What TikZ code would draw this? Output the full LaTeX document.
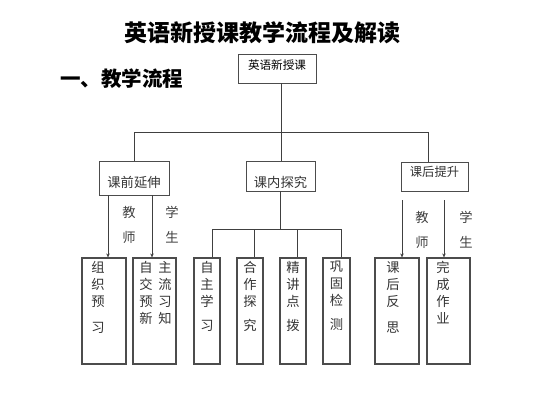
\documentclass[tikz,border=0pt]{standalone}
\usepackage{fontspec}
\newfontfamily\cjk{Noto Sans CJK SC}
\usetikzlibrary{arrows.meta}
\begin{document}
\begin{tikzpicture}[x=1pt,y=-1pt,
  box/.style={draw=black!70,line width=0.9pt,inner sep=0pt},
  tall/.style={draw=black!70,line width=1.2pt,inner sep=0pt},
  conn/.style={draw=black!75,line width=0.9pt},
  arr/.style={conn,-{Stealth[length=4pt,width=3.5pt]}},
  lbl/.style={font=\cjk\fontsize{13.3}{15}\selectfont,text=black!80,inner sep=0pt},
  col/.style={font=\cjk\fontsize{13.3}{17}\selectfont,text=black!80,inner sep=0pt,align=center,anchor=north},
  side/.style={font=\cjk\fontsize{13.3}{15}\selectfont,text=black!75,inner sep=0pt}]
\useasboundingbox (0,0) rectangle (533,400);
% titles
\node[font=\cjk\bfseries\fontsize{23}{26}\selectfont,inner sep=0pt] (title) at (262,33) {英语新授课教学流程及解读};
\node[font=\cjk\bfseries\fontsize{20.5}{23}\selectfont,inner sep=0pt,anchor=west] (sub) at (60,79) {一、教学流程};
% level 0
\node[box,minimum width=78pt,minimum height=29pt] (top) at (277,68.5) {};
\node[font=\cjk\fontsize{11.6}{13}\selectfont,inner sep=0pt] (toplbl) at (277,65) {英语新授课};
% level 1
\node[box,minimum width=70pt,minimum height=34pt] (pre) at (134,178) {};
\node[lbl] (prel) at (134,182) {课前延伸};
\node[box,minimum width=69pt,minimum height=30pt] (mid) at (280.5,176) {};
\node[lbl] (midl) at (280.5,182) {课内探究};
\node[box,minimum width=67pt,minimum height=29pt] (post) at (434.5,176.5) {};
\node[font=\cjk\fontsize{12.3}{14}\selectfont,inner sep=0pt,text=black!80] (postl) at (434.5,172) {课后提升};
% junctions
\coordinate (jt) at (281,132);
\coordinate (jl) at (134,132);
\coordinate (jr) at (428,132);
\draw[conn] (top.south -| jt) -- (jt);
\draw[conn] (pre.north) -- (jl) -- (jr) -- (post.north -| jr);
\draw[conn] (jt) -- (mid.north -| jt);
% level 2 boxes
\node[tall,minimum width=44pt,minimum height=106pt] (b1) at (104,311) {};
\node[tall,minimum width=43pt,minimum height=106pt] (b2) at (154.5,311) {};
\node[tall,minimum width=26pt,minimum height=106pt] (m1) at (207,311) {};
\node[tall,minimum width=26pt,minimum height=106pt] (m2) at (250,311) {};
\node[tall,minimum width=26pt,minimum height=106pt] (m3) at (293,311) {};
\node[tall,minimum width=27pt,minimum height=106pt] (m4) at (336.5,311) {};
\node[tall,minimum width=44pt,minimum height=106pt] (r1) at (397,311) {};
\node[tall,minimum width=43pt,minimum height=106pt] (r2) at (448.5,311) {};
% box texts
\node[col] (t1) at (98,261) {组\\织\\预\\[9pt]习};
\node[col] (t2a) at (146,261) {自\\交\\预\\新};
\node[col] (t2b) at (165,261) {主\\流\\习\\知};
\node[col] (tm1) at (207,261) {自\\主\\学\\[7pt]习};
\node[col] (tm2) at (250,261) {合\\作\\探\\[7pt]究};
\node[col] (tm3) at (293,261) {精\\讲\\点\\[7pt]拨};
\node[col] (tm4) at (336.5,261) {巩\\固\\检\\[7pt]测};
\node[col] (tr1) at (393,261) {课\\后\\反\\[9pt]思};
\node[col] (tr2) at (443,261) {完\\成\\作\\业};
% left arrows
\draw[arr] (pre.south -| 108,0) -- (b1.north -| 108,0);
\draw[arr] (pre.south -| 152,0) -- (b2.north -| 152,0);
\node[side] (s1) at (129,212) {教};
\node[side] (s2) at (129,237) {师};
\node[side] (s3) at (172,212) {学};
\node[side] (s4) at (172,237) {生};
% middle tree
\coordinate (jm) at (280,229);
\coordinate (jm1) at (212,229);
\coordinate (jm4) at (341,229);
\draw[conn] (mid.south -| jm) -- (jm);
\draw[conn] (jm1) -- (jm4);
\draw[conn] (jm1) -- (m1.north -| jm1);
\draw[conn] (254,229) -- (m2.north -| 254,0);
\draw[conn] (297,229) -- (m3.north -| 297,0);
\draw[conn] (jm4) -- (m4.north -| jm4);
% right arrows
\coordinate (ra) at (402,200);
\coordinate (rb) at (444,200);
\draw[arr] (ra) -- (r1.north -| ra);
\draw[arr] (rb) -- (r2.north -| rb);
\node[side] (s5) at (422,217) {教};
\node[side] (s6) at (422,242) {师};
\node[side] (s7) at (466,217) {学};
\node[side] (s8) at (466,242) {生};
\end{tikzpicture}
\end{document}
